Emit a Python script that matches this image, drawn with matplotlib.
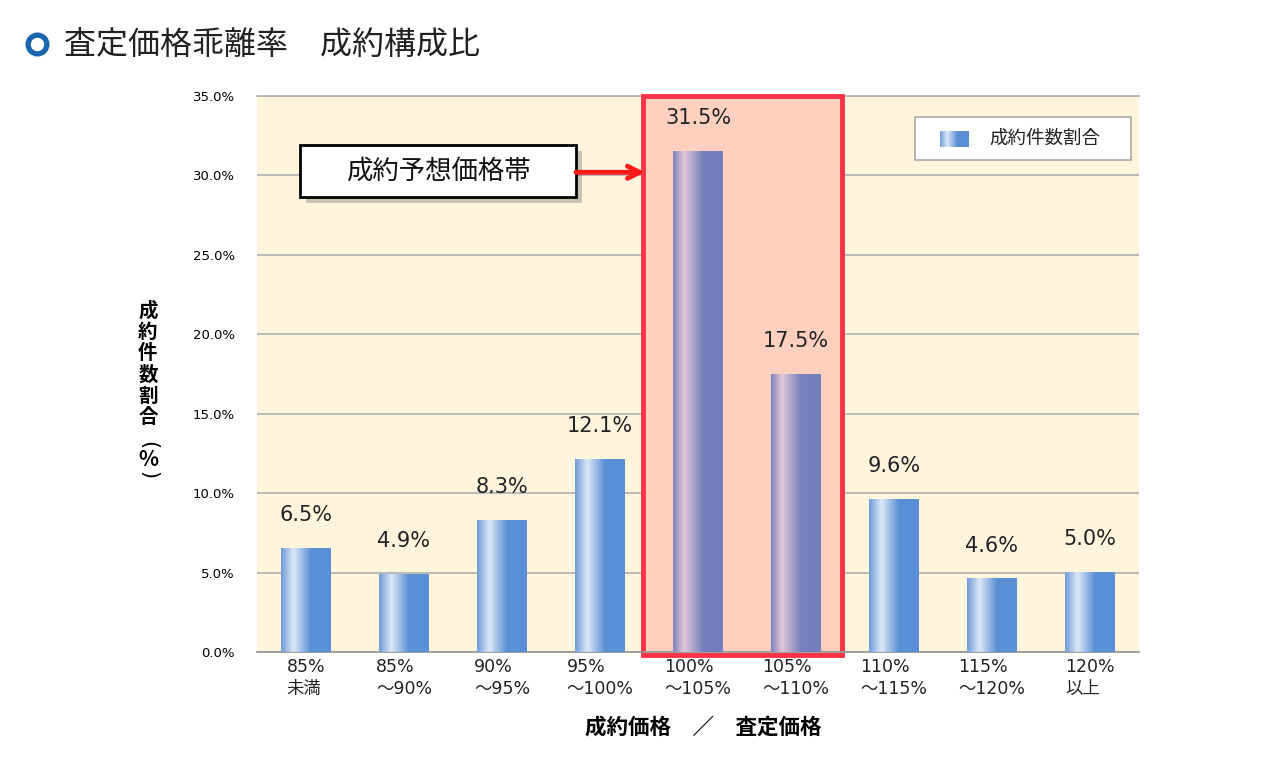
import numpy as np
import matplotlib
matplotlib.use("Agg")
from matplotlib import pyplot as plt
from matplotlib.colors import LinearSegmentedColormap
from matplotlib.patches import Rectangle
from matplotlib.lines import Line2D
from matplotlib import patheffects

plt.rcParams["font.family"] = ["Noto Sans CJK JP", "DejaVu Sans"]
NUM_FONT = ["DejaVu Sans", "Noto Sans CJK JP"]

# data
categories = ["85%\n未満", "85%\n～90%", "90%\n～95%", "95%\n～100%", "100%\n～105%",
              "105%\n～110%", "110%\n～115%", "115%\n～120%", "120%\n以上"]
shares = [6.5, 4.9, 8.3, 12.1, 31.5, 17.5, 9.6, 4.6, 5.0]
highlighted = [False, False, False, False, True, True, False, False, False]
yticks = [0, 5, 10, 15, 20, 25, 30, 35]

title = "査定価格乖離率　成約構成比"
callout = "成約予想価格帯"
legend_label = "成約件数割合"
xlabel = "成約価格　／　査定価格"

blue_cmap = LinearSegmentedColormap.from_list(
    "blue", [(0, "#6e9bd6"), (0.25, "#dbe8f6"), (0.6, "#5b8fd6"), (1, "#5a8ed5")])
purple_cmap = LinearSegmentedColormap.from_list(
    "purple", [(0, "#7c81bb"), (0.22, "#e2c9d9"), (0.6, "#7680bc"), (1, "#737fbc")])
grad = np.linspace(0, 1, 256).reshape(1, -1)

fig = plt.figure(figsize=(12.64, 7.74), dpi=100)
ax = fig.add_axes([0.2033, 0.1576, 0.6978, 0.7183])
ax.set_facecolor("#fff5dd")

x = np.arange(len(categories))
bars = ax.bar(x, shares, width=0.51, color="none", zorder=3)
for b, hl in zip(bars, highlighted):
    x0, w, h = b.get_x(), b.get_width(), b.get_height()
    ax.imshow(grad, cmap=purple_cmap if hl else blue_cmap, aspect="auto",
              extent=(x0, x0 + w, 0, h), interpolation="bilinear", zorder=3)

for xi, v in zip(x, shares):
    ax.annotate(f"{v:.1f}%", (xi, v), xytext=(0, 24), textcoords="offset points",
                ha="center", va="center", fontsize=15, color="#222222", zorder=5,
                family=NUM_FONT)

ax.set_xlim(-0.5, len(categories) - 0.5)
ax.set_ylim(0, 35)
ax.set_yticks(yticks)
ax.set_yticklabels([f"{t:.1f}%" for t in yticks], fontsize=9.5, family=NUM_FONT)
ax.set_xticks(x)
ax.set_xticklabels(categories, fontsize=12.5, multialignment="left", linespacing=1.3,
                   color="#222222", family=NUM_FONT)
ax.tick_params(axis="y", length=0, pad=16)
ax.tick_params(axis="x", length=0, pad=4)
ax.yaxis.grid(True, color="#b4b4b4", lw=1.3, zorder=1)
ax.set_axisbelow(True)
for s in ["left", "right", "top"]:
    ax.spines[s].set_visible(False)
ax.spines["bottom"].set_color("#999999")
ax.spines["bottom"].set_linewidth(1.3)
ax.axhline(35, color="#b4b4b4", lw=1.3, zorder=1, clip_on=False)

# highlighted range
ax.add_patch(Rectangle((3.44, -0.2), 2.03, 35.2, facecolor="#ffd0bf", edgecolor="#fe3246",
                       lw=3.5, zorder=2, clip_on=False))

# callout box with shadow + arrow
box = Rectangle((-0.06, 28.64), 2.815, 3.28, facecolor="white", edgecolor="black",
                lw=2, zorder=6)
box.set_path_effects([patheffects.SimplePatchShadow(offset=(4, -4), alpha=0.3),
                      patheffects.Normal()])
ax.add_patch(box)
ax.text(1.3475, 30.28, callout, fontsize=19, ha="center", va="center",
        color="#111111", zorder=7)
ax.annotate("", xy=(3.46, 30.2), xytext=(2.755, 30.2), zorder=7,
            arrowprops=dict(arrowstyle="->", color="#ff1a1a", lw=3.5,
                            mutation_scale=22, shrinkA=0, shrinkB=0))

# legend drawn by hand
ax.add_patch(Rectangle((0.746, 0.885), 0.245, 0.077, transform=ax.transAxes,
                       facecolor="white", edgecolor="#aaaaaa", lw=1.2, zorder=6))
lax = fig.add_axes([0.7437, 0.810, 0.0222, 0.0207])
lax.imshow(grad, cmap=blue_cmap, aspect="auto", interpolation="bilinear")
lax.axis("off")
lax.set_zorder(7)
ax.text(0.830, 0.9235, legend_label, transform=ax.transAxes, fontsize=13.3,
        va="center", ha="left", color="#222222", zorder=7)

# y label, stacked vertically
fig.text(0.117, 1 - 364 / 774, "\n".join("成約件数割合"), fontsize=14, fontweight="bold",
         ha="center", va="center", linespacing=1.16)
fig.text(0.117, 1 - 445 / 774, "(", fontsize=15, rotation=-90, ha="center", va="center",
         family="DejaVu Sans")
fig.text(0.117, 1 - 460 / 774, "%", fontsize=15, fontweight="bold", ha="center", va="center")
fig.text(0.117, 1 - 475 / 774, ")", fontsize=15, rotation=-90, ha="center", va="center",
         family="DejaVu Sans")

fig.text(0.556, 1 - 727 / 774, xlabel, fontsize=15.5, fontweight="bold",
         ha="center", va="center")

# title with ring marker
fig.add_artist(Line2D([0.0289], [1 - 44 / 774], marker="o", markersize=13.5,
                      markerfacecolor="white", markeredgecolor="#1a66ae",
                      markeredgewidth=3.8, transform=fig.transFigure))
fig.text(0.051, 0.942, title, fontsize=23, va="center", ha="left", color="#222222")

fig.savefig("out.png", dpi=100, facecolor="white")
